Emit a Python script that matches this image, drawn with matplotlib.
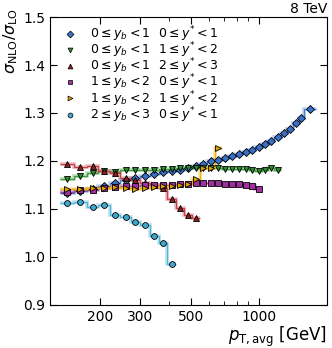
import numpy as np
import matplotlib
matplotlib.use('Agg')
import matplotlib.pyplot as plt
from matplotlib.ticker import FixedLocator, FixedFormatter, NullFormatter

# pT,avg bin edges (GeV)
edges = [133, 153, 174, 196, 220, 245, 272, 300, 330, 362, 395, 430, 468, 507,
         548, 592, 638, 686, 737, 790, 846, 905, 967, 1032, 1101, 1172, 1248,
         1327, 1410, 1497, 1588, 1784]

# NLO/LO ratios
k_yb0_ys0 = [1.133, 1.137, 1.141, 1.147, 1.155, 1.161, 1.165, 1.169, 1.173, 1.177,
             1.179, 1.182, 1.186, 1.189, 1.194, 1.200, 1.203, 1.207, 1.210, 1.214,
             1.218, 1.223, 1.229, 1.235, 1.241, 1.250, 1.258, 1.266, 1.280, 1.290,
             1.308]
k_yb0_ys1 = [1.162, 1.169, 1.174, 1.179, 1.177, 1.181, 1.181, 1.182, 1.182, 1.184,
             1.184, 1.185, 1.186, 1.186, 1.186, 1.186, 1.186, 1.184, 1.184, 1.184,
             1.183, 1.182, 1.180, 1.182, 1.186, 1.181]
k_yb0_ys2 = [1.194, 1.187, 1.190, 1.179, 1.175, 1.165, 1.160, 1.153, 1.150, 1.143,
             1.121, 1.101, 1.088, 1.081]
k_yb1_ys0 = [1.136, 1.139, 1.140, 1.143, 1.146, 1.147, 1.148, 1.149, 1.150, 1.150,
             1.150, 1.151, 1.152, 1.153, 1.153, 1.153, 1.153, 1.152, 1.152, 1.151,
             1.150, 1.147, 1.141]
k_yb1_ys1 = [1.141, 1.142, 1.143, 1.143, 1.145, 1.143, 1.142, 1.144, 1.146, 1.147,
             1.148, 1.150, 1.152, 1.163, 1.185, 1.185, 1.226]
k_yb2_ys0 = [1.112, 1.115, 1.104, 1.108, 1.088, 1.084, 1.072, 1.067, 1.044, 1.028,
             0.986]

labels = [r'$0 \leq y_b < 1\ \ 0 \leq y^{*} < 1$',
          r'$0 \leq y_b < 1\ \ 1 \leq y^{*} < 2$',
          r'$0 \leq y_b < 1\ \ 2 \leq y^{*} < 3$',
          r'$1 \leq y_b < 2\ \ 0 \leq y^{*} < 1$',
          r'$1 \leq y_b < 2\ \ 1 \leq y^{*} < 2$',
          r'$2 \leq y_b < 3\ \ 0 \leq y^{*} < 1$']

series = [k_yb0_ys0, k_yb0_ys1, k_yb0_ys2, k_yb1_ys0, k_yb1_ys1, k_yb2_ys0]
markers = ['D', 'v', '^', 's', '>', 'o']
line_col = ['#4a80d4', '#3aa03a', '#c8404a', '#a040a0', '#f0b400', '#4fb4d8']
face_col = ['#3a70c8', '#2e8a2e', '#8b2020', '#a030a0', '#e0a000', '#40a8cc']

plt.rcParams['mathtext.fontset'] = 'dejavusans'
fig = plt.figure(figsize=(3.32, 3.48), dpi=100)
ax = fig.add_axes([0.151, 0.124, 0.834, 0.827])

e = np.array(edges, dtype=float)
for vals, m, lc, fc, lab in zip(series, markers, line_col, face_col, labels):
    n = len(vals)
    ed = e[:n + 1]
    ctr = np.sqrt(ed[:-1] * ed[1:])
    ax.stairs(vals, ed, color=lc, lw=2.8, alpha=0.3, baseline=None)
    ax.stairs(vals, ed, color=lc, lw=1.0, baseline=None)
    ax.plot(ctr, vals, ls='none', marker=m, ms=4.2, mfc=fc, mec='black', mew=0.6)
    ax.plot([], [], ls='none', marker=m, ms=3.5, mfc=fc, mec='black', mew=0.5, label=lab)

ax.set_xscale('log')
ax.set_xlim(120, 2000)
ax.set_ylim(0.9, 1.5)
ax.xaxis.set_major_locator(FixedLocator([200, 300, 500, 1000]))
ax.xaxis.set_major_formatter(FixedFormatter(['200', '300', '500', '1000']))
ax.xaxis.set_minor_locator(FixedLocator([400, 600, 700, 800, 900]))
ax.xaxis.set_minor_formatter(NullFormatter())
ax.set_yticks([0.9, 1.0, 1.1, 1.2, 1.3, 1.4, 1.5])
ax.tick_params(which='both', direction='in', top=True, right=True, labelsize=10)
ax.tick_params(which='major', length=5)
ax.tick_params(which='minor', length=3)

ax.set_ylabel(r'$\sigma_{\rm NLO}/\sigma_{\rm LO}$', fontsize=11.5, loc='top')
ax.yaxis.set_label_coords(-0.108, 1.03)
ax.set_xlabel(r'$p_{\rm T,avg}$ [GeV]', fontsize=12, loc='right', labelpad=1)
ax.text(1.0, 1.005, '8 TeV', transform=ax.transAxes, ha='right', va='bottom', fontsize=10)

ax.legend(loc='upper left', frameon=False, fontsize=9, handletextpad=0.9,
          labelspacing=-0.28, borderaxespad=0.2, handlelength=1.5,
          bbox_to_anchor=(0.01, 1.0))

fig.savefig('out.png', dpi=100)
